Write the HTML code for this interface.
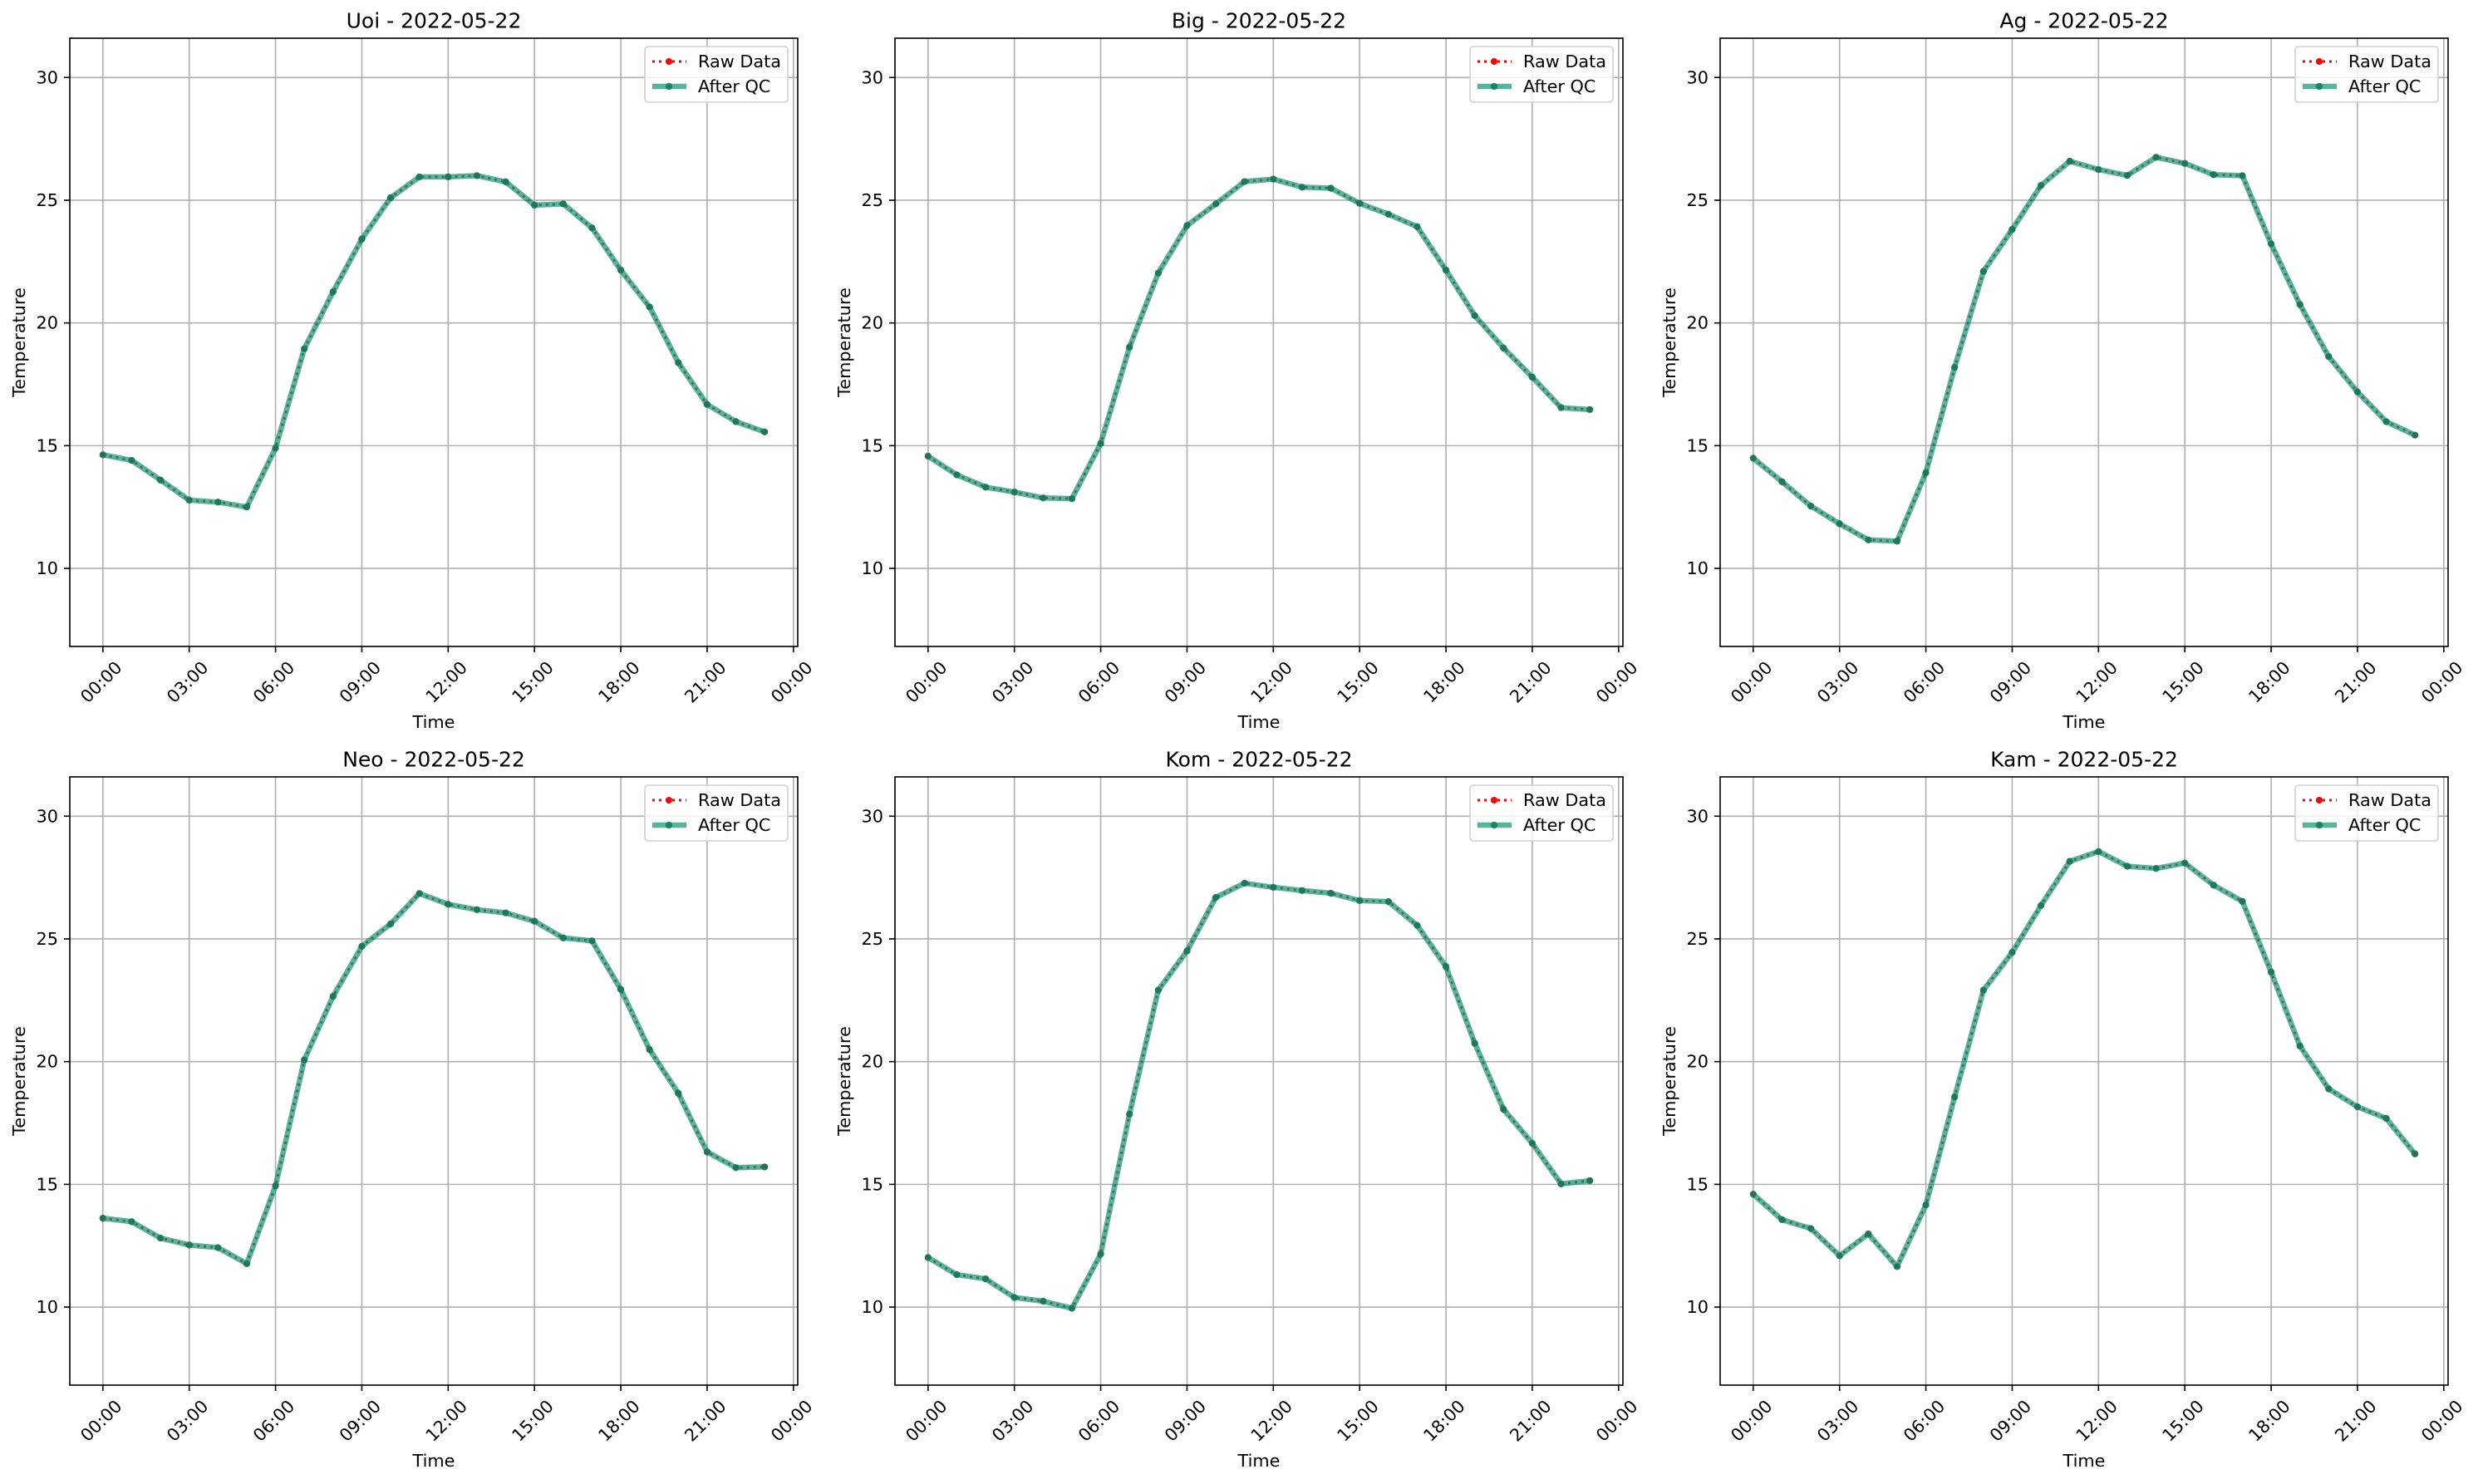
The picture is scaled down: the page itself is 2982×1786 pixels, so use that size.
<!DOCTYPE html>
<html><head><meta charset="utf-8">
<style>
html,body{margin:0;padding:0;background:#fff;}
svg text{font-family:"DejaVu Sans","Liberation Sans",sans-serif;fill:#000;}
</style></head>
<body>
<svg id="fig" xmlns="http://www.w3.org/2000/svg" width="2982" height="1781" viewBox="0 0 2982 1781"></svg>
<script>
const stations = ["Uoi","Big","Ag","Neo","Kom","Kam"];
const dateLabel = "2022-05-22";
const hours = [0,1,2,3,4,5,6,7,8,9,10,11,12,13,14,15,16,17,18,19,20,21,22,23];
const xTickHours = [0,3,6,9,12,15,18,21,24];
const xTickLabels = ["00:00","03:00","06:00","09:00","12:00","15:00","18:00","21:00","00:00"];
const yTicks = [10,15,20,25,30];
const tempUoi = [14.63,14.4,13.6,12.78,12.7,12.5,14.9,18.95,21.27,23.42,25.1,25.95,25.95,26.0,25.75,24.8,24.85,23.87,22.15,20.65,18.38,16.68,15.98,15.56];
const tempBig = [14.57,13.81,13.31,13.11,12.87,12.84,15.09,19.01,22.03,23.97,24.85,25.76,25.86,25.53,25.49,24.87,24.43,23.92,22.15,20.30,18.98,17.79,16.55,16.47];
const tempAg  = [14.49,13.53,12.54,11.82,11.16,11.11,13.9,18.19,22.1,23.81,25.6,26.59,26.25,26.01,26.75,26.5,26.04,26.0,23.22,20.75,18.63,17.19,15.98,15.43];
const tempNeo = [13.62,13.48,12.81,12.53,12.42,11.77,14.94,20.07,22.66,24.70,25.61,26.85,26.41,26.19,26.06,25.72,25.04,24.92,22.94,20.49,18.71,16.32,15.68,15.71];
const tempKom = [12.02,11.32,11.15,10.39,10.24,9.95,12.16,17.86,22.91,24.51,26.69,27.27,27.10,26.97,26.86,26.56,26.52,25.55,23.87,20.75,18.06,16.67,15.02,15.15];
const tempKam = [14.6,13.56,13.2,12.09,12.98,11.65,14.16,18.56,22.91,24.45,26.36,28.16,28.56,27.96,27.87,28.09,27.19,26.53,23.65,20.64,18.89,18.16,17.69,16.24];
const rawSeries = [tempUoi,tempBig,tempAg,tempNeo,tempKom,tempKam];
const qcSeries = [tempUoi,tempBig,tempAg,tempNeo,tempKom,tempKam];

const NS="http://www.w3.org/2000/svg";
const svg=document.getElementById('fig');
function mk(tag,attrs,parent){const e=document.createElementNS(NS,tag);for(const k in attrs)e.setAttribute(k,attrs[k]);(parent||svg).appendChild(e);return e;}

const AW=876, AH=732, X0=[84,1077,2070], Y0=[46,935];
const XMIN=-1.15, XMAX=24.15, YMIN=6.82, YMAX=31.6;
const TEAL="rgb(14,148,114)";

stations.forEach((st,i)=>{
  const ox=X0[i%3], oy=Y0[Math.floor(i/3)];
  const sx=h=>ox+(h-XMIN)/(XMAX-XMIN)*AW;
  const sy=v=>oy+(YMAX-v)/(YMAX-YMIN)*AH;
  const g=mk('g',{});
  
  
  xTickHours.forEach((h,k)=>{
    const gl=mk('line',{x1:sx(h),x2:sx(h),y1:oy,y2:oy+AH,stroke:'#b0b0b0','stroke-width':1.6},g);
    
    
    const tk=mk('line',{x1:sx(h),x2:sx(h),y1:oy+AH,y2:oy+AH+7,stroke:'#000','stroke-width':1.6},g);
    
    
    const cx=sx(h)-2, cy=oy+AH+43;
    const t=mk('text',{x:cx,y:cy,'font-size':20.8,'text-anchor':'middle','dominant-baseline':'central',transform:`rotate(-45 ${cx} ${cy})`},g);
    t.textContent=xTickLabels[k];
    
    
  });
  yTicks.forEach(v=>{
    const gl=mk('line',{x1:ox,x2:ox+AW,y1:sy(v),y2:sy(v),stroke:'#b0b0b0','stroke-width':1.6},g);
    
    
    const tk=mk('line',{x1:ox-7,x2:ox,y1:sy(v),y2:sy(v),stroke:'#000','stroke-width':1.6},g);
    
    
    const t=mk('text',{x:ox-14,y:sy(v),'font-size':20.8,'text-anchor':'end','dominant-baseline':'central'},g);
    t.textContent=v;
    
    
  });
  const raw=rawSeries[i], qc=qcSeries[i];
  const rawPts=hours.map((h,k)=>sx(h)+','+sy(raw[k])).join(' ');
  const rl=mk('polyline',{points:rawPts,fill:'none',stroke:'#ff0000','stroke-width':3,'stroke-dasharray':'3 5'},g);
  
  
  hours.forEach((h,k)=>{
    const c=mk('circle',{cx:sx(h),cy:sy(raw[k]),r:3.5,fill:'#ff0000'},g);
    
    
  });
  const qcPts=hours.map((h,k)=>sx(h)+','+sy(qc[k])).join(' ');
  const ql=mk('polyline',{points:qcPts,fill:'none',stroke:TEAL,'stroke-width':6.5,'stroke-opacity':0.7,'stroke-linejoin':'round'},g);
  
  
  hours.forEach((h,k)=>{
    const c=mk('circle',{cx:sx(h),cy:sy(qc[k]),r:4.2,fill:'#137a5c','fill-opacity':0.85},g);
    
    
  });
  const fr=mk('rect',{x:ox,y:oy,width:AW,height:AH,fill:'none',stroke:'#000','stroke-width':1.6},g);
  
  
  const tt=mk('text',{x:ox+AW/2,y:oy-21,'font-size':25,'text-anchor':'middle','dominant-baseline':'central'},g);
  tt.textContent=st+' - '+dateLabel;
  
  
  const xl=mk('text',{x:ox+AW/2,y:oy+AH+91,'font-size':20.8,'text-anchor':'middle','dominant-baseline':'central'},g);
  xl.textContent='Time';
  
  
  const ylx=ox-61, yly=oy+AH/2;
  const yl=mk('text',{x:ylx,y:yly,'font-size':20.8,'text-anchor':'middle','dominant-baseline':'central',transform:`rotate(-90 ${ylx} ${yly})`},g);
  yl.textContent='Temperature';
  
  
  const lx=ox+AW-184, ly=oy+10;
  const lg=mk('g',{},g);
  
  
  mk('rect',{x:lx,y:ly,width:172,height:67,rx:4,fill:'#fff','fill-opacity':0.8,stroke:'#d0d0d0','stroke-width':1.6},lg);
  const e1=mk('g',{},lg);
  
  
  mk('line',{x1:lx+9,x2:lx+50,y1:ly+18,y2:ly+18,stroke:'#ff0000','stroke-width':3,'stroke-dasharray':'3 5'},e1);
  mk('circle',{cx:lx+29,cy:ly+18,r:4,fill:'#ff0000'},e1);
  const t1=mk('text',{x:lx+64,y:ly+18,'font-size':20.8,'dominant-baseline':'central'},e1);
  t1.textContent='Raw Data';
  const e2=mk('g',{},lg);
  
  
  mk('line',{x1:lx+9,x2:lx+50,y1:ly+48,y2:ly+48,stroke:TEAL,'stroke-width':6.5,'stroke-opacity':0.7},e2);
  mk('circle',{cx:lx+29,cy:ly+48,r:4.2,fill:'#137a5c','fill-opacity':0.85},e2);
  const t2=mk('text',{x:lx+64,y:ly+48,'font-size':20.8,'dominant-baseline':'central'},e2);
  t2.textContent='After QC';
});
</script>
</body></html>
